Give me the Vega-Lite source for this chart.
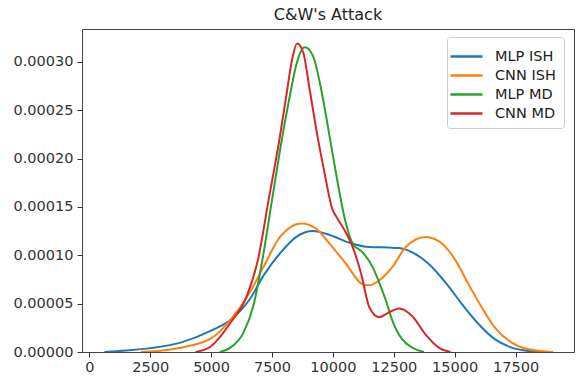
{
  "$schema": "https://vega.github.io/schema/vega-lite/v6.json",
  "width": 492,
  "height": 323,
  "autosize": "none",
  "padding": {"left": 82, "top": 29, "right": 2, "bottom": 24},
  "title": {"text": "C&W's Attack", "fontSize": 16, "font": "DejaVu Sans", "fontWeight": "normal", "color": "#222", "offset": 6, "anchor": "middle"},
  "config": {
    "view": {"stroke": "#444", "strokeWidth": 1},
    "font": "DejaVu Sans",
    "axis": {"grid": false, "domain": false, "tickColor": "#333", "tickSize": 5, "labelColor": "#333", "labelFontSize": 14.5, "labelFont": "DejaVu Sans", "title": null}
  },
  "data": {"values": [
    {"s": "MLP ISH", "x": 625, "y": 0},
    {"s": "MLP ISH", "x": 1500, "y": 0.0000015},
    {"s": "MLP ISH", "x": 2527, "y": 0.000004},
    {"s": "MLP ISH", "x": 3750, "y": 0.0000097},
    {"s": "MLP ISH", "x": 5000, "y": 0.000022},
    {"s": "MLP ISH", "x": 5790, "y": 0.000033},
    {"s": "MLP ISH", "x": 6600, "y": 0.000055},
    {"s": "MLP ISH", "x": 7150, "y": 0.000079},
    {"s": "MLP ISH", "x": 7830, "y": 0.000102},
    {"s": "MLP ISH", "x": 8500, "y": 0.000119},
    {"s": "MLP ISH", "x": 9185, "y": 0.000125},
    {"s": "MLP ISH", "x": 9865, "y": 0.000121},
    {"s": "MLP ISH", "x": 10680, "y": 0.000113},
    {"s": "MLP ISH", "x": 11500, "y": 0.0001085},
    {"s": "MLP ISH", "x": 12310, "y": 0.000108},
    {"s": "MLP ISH", "x": 12720, "y": 0.0001075},
    {"s": "MLP ISH", "x": 13260, "y": 0.000103},
    {"s": "MLP ISH", "x": 13940, "y": 0.000091},
    {"s": "MLP ISH", "x": 14620, "y": 0.000072},
    {"s": "MLP ISH", "x": 15300, "y": 0.0000496},
    {"s": "MLP ISH", "x": 15980, "y": 0.000029},
    {"s": "MLP ISH", "x": 16660, "y": 0.000013},
    {"s": "MLP ISH", "x": 17340, "y": 0.0000045},
    {"s": "MLP ISH", "x": 18020, "y": 0.000001},
    {"s": "MLP ISH", "x": 18560, "y": 0.0000001},
    {"s": "CNN ISH", "x": 2120, "y": 0},
    {"s": "CNN ISH", "x": 3000, "y": 0.0000015},
    {"s": "CNN ISH", "x": 3750, "y": 0.0000045},
    {"s": "CNN ISH", "x": 5000, "y": 0.000014},
    {"s": "CNN ISH", "x": 5790, "y": 0.000033},
    {"s": "CNN ISH", "x": 6600, "y": 0.000062},
    {"s": "CNN ISH", "x": 7150, "y": 0.000088},
    {"s": "CNN ISH", "x": 7830, "y": 0.000119},
    {"s": "CNN ISH", "x": 8710, "y": 0.000133},
    {"s": "CNN ISH", "x": 9320, "y": 0.0001275},
    {"s": "CNN ISH", "x": 9865, "y": 0.000112},
    {"s": "CNN ISH", "x": 10545, "y": 0.000091},
    {"s": "CNN ISH", "x": 11225, "y": 0.00007},
    {"s": "CNN ISH", "x": 11500, "y": 0.000069},
    {"s": "CNN ISH", "x": 11900, "y": 0.000074},
    {"s": "CNN ISH", "x": 12450, "y": 0.000088},
    {"s": "CNN ISH", "x": 12990, "y": 0.0001085},
    {"s": "CNN ISH", "x": 13810, "y": 0.000119},
    {"s": "CNN ISH", "x": 14490, "y": 0.000112},
    {"s": "CNN ISH", "x": 15030, "y": 0.000095},
    {"s": "CNN ISH", "x": 15570, "y": 0.00007},
    {"s": "CNN ISH", "x": 16115, "y": 0.000046},
    {"s": "CNN ISH", "x": 16660, "y": 0.000025},
    {"s": "CNN ISH", "x": 17340, "y": 0.0000097},
    {"s": "CNN ISH", "x": 18020, "y": 0.0000028},
    {"s": "CNN ISH", "x": 19040, "y": 0},
    {"s": "MLP MD", "x": 5354, "y": 0},
    {"s": "MLP MD", "x": 5790, "y": 0.0000045},
    {"s": "MLP MD", "x": 6330, "y": 0.00002},
    {"s": "MLP MD", "x": 6740, "y": 0.000048},
    {"s": "MLP MD", "x": 7105, "y": 0.000095},
    {"s": "MLP MD", "x": 7500, "y": 0.000157},
    {"s": "MLP MD", "x": 7900, "y": 0.000219},
    {"s": "MLP MD", "x": 8235, "y": 0.000265},
    {"s": "MLP MD", "x": 8510, "y": 0.000298},
    {"s": "MLP MD", "x": 8845, "y": 0.000315},
    {"s": "MLP MD", "x": 9185, "y": 0.000306},
    {"s": "MLP MD", "x": 9525, "y": 0.000271},
    {"s": "MLP MD", "x": 9865, "y": 0.000223},
    {"s": "MLP MD", "x": 10205, "y": 0.000174},
    {"s": "MLP MD", "x": 10410, "y": 0.000147},
    {"s": "MLP MD", "x": 10545, "y": 0.000132},
    {"s": "MLP MD", "x": 10815, "y": 0.000112},
    {"s": "MLP MD", "x": 11225, "y": 0.000103},
    {"s": "MLP MD", "x": 11630, "y": 0.000088},
    {"s": "MLP MD", "x": 11900, "y": 0.000072},
    {"s": "MLP MD", "x": 12180, "y": 0.000053},
    {"s": "MLP MD", "x": 12450, "y": 0.000032},
    {"s": "MLP MD", "x": 12850, "y": 0.000013},
    {"s": "MLP MD", "x": 13260, "y": 0.0000045},
    {"s": "MLP MD", "x": 13740, "y": 0},
    {"s": "CNN MD", "x": 4362, "y": 0},
    {"s": "CNN MD", "x": 5000, "y": 0.000006},
    {"s": "CNN MD", "x": 5790, "y": 0.00003},
    {"s": "CNN MD", "x": 6470, "y": 0.000058},
    {"s": "CNN MD", "x": 6920, "y": 0.000095},
    {"s": "CNN MD", "x": 7360, "y": 0.000157},
    {"s": "CNN MD", "x": 7800, "y": 0.000219},
    {"s": "CNN MD", "x": 8100, "y": 0.000267},
    {"s": "CNN MD", "x": 8330, "y": 0.000303},
    {"s": "CNN MD", "x": 8530, "y": 0.000319},
    {"s": "CNN MD", "x": 8780, "y": 0.00031},
    {"s": "CNN MD", "x": 9050, "y": 0.000271},
    {"s": "CNN MD", "x": 9320, "y": 0.00023},
    {"s": "CNN MD", "x": 9660, "y": 0.000185},
    {"s": "CNN MD", "x": 9975, "y": 0.000148},
    {"s": "CNN MD", "x": 10140, "y": 0.00014},
    {"s": "CNN MD", "x": 10480, "y": 0.000126},
    {"s": "CNN MD", "x": 10815, "y": 0.0001085},
    {"s": "CNN MD", "x": 11160, "y": 0.000081},
    {"s": "CNN MD", "x": 11500, "y": 0.000046},
    {"s": "CNN MD", "x": 11900, "y": 0.000036},
    {"s": "CNN MD", "x": 12310, "y": 0.000041},
    {"s": "CNN MD", "x": 12720, "y": 0.000045},
    {"s": "CNN MD", "x": 13260, "y": 0.000037},
    {"s": "CNN MD", "x": 13810, "y": 0.000018},
    {"s": "CNN MD", "x": 14350, "y": 0.0000045},
    {"s": "CNN MD", "x": 14830, "y": 0}
  ]},
  "mark": {"type": "line", "interpolate": "monotone", "strokeWidth": 2, "clip": true},
  "encoding": {
    "x": {"field": "x", "type": "quantitative", "scale": {"domain": [-300, 19900], "nice": false, "zero": false},
      "axis": {"values": [0, 2500, 5000, 7500, 10000, 12500, 15000, 17500], "format": "d", "labelPadding": 3}},
    "y": {"field": "y", "type": "quantitative", "scale": {"domain": [0, 0.000334], "nice": false},
      "axis": {"values": [0, 0.00005, 0.0001, 0.00015, 0.0002, 0.00025, 0.0003], "format": ".5f", "labelPadding": 4}},
    "color": {"field": "s", "type": "nominal",
      "scale": {"domain": ["MLP ISH", "CNN ISH", "MLP MD", "CNN MD"], "range": ["#1f77b4", "#ff7f0e", "#2ca02c", "#d62728"]},
      "legend": {"title": null, "orient": "none", "legendX": 365, "legendY": 8,
        "symbolType": "M-1.6,0L1.6,0", "symbolSize": 400, "symbolStrokeWidth": 2.5,
        "labelFontSize": 14.5, "labelFont": "DejaVu Sans", "labelColor": "#222", "labelOffset": 17,
        "labelExpr": "datum.label + '  '",
        "rowPadding": 1, "padding": 8, "strokeColor": "#ccc", "fillColor": "white", "cornerRadius": 3}},
    "order": {"field": "s"}
  }
}
